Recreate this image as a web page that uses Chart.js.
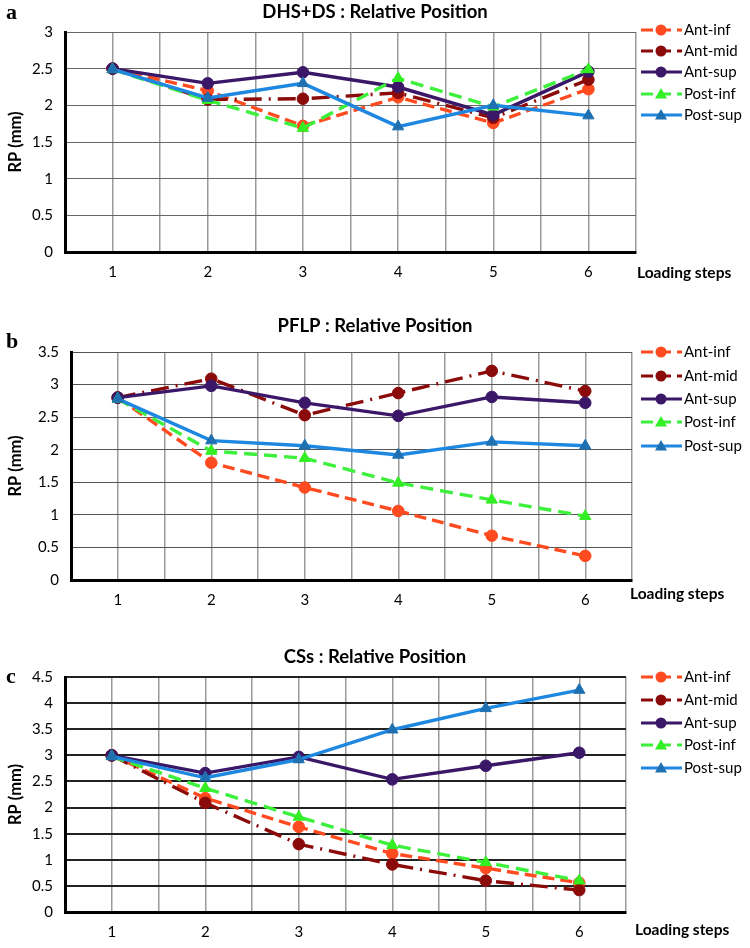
<!DOCTYPE html>
<html>
<head>
<meta charset="utf-8">
<script src="https://cdn.jsdelivr.net/npm/chart.js@4.4.1/dist/chart.umd.min.js"></script>
<style>
  body { margin: 0; background: #fff; }
  .panel { position: absolute; left: 0; }
</style>
</head>
<body>
<div class="panel" style="top:0"><canvas id="chartA" width="750" height="300"></canvas></div>
<div class="panel" style="top:300px"><canvas id="chartB" width="750" height="315"></canvas></div>
<div class="panel" style="top:615px"><canvas id="chartC" width="750" height="333"></canvas></div>
<script>
// Data
const steps = [1, 2, 3, 4, 5, 6];
const seriesNames = ['Ant-inf', 'Ant-mid', 'Ant-sup', 'Post-inf', 'Post-sup'];

// (a) DHS+DS
const antInfA = [2.5, 2.2, 1.72, 2.11, 1.76, 2.22];
const antMidA = [2.5, 2.08, 2.09, 2.17, 1.83, 2.35];
const antSupA = [2.5, 2.3, 2.45, 2.25, 1.87, 2.46];
const postInfA = [2.49, 2.07, 1.69, 2.37, 1.98, 2.49];
const postSupA = [2.49, 2.1, 2.3, 1.71, 2.0, 1.86];

// (b) PFLP
const antInfB = [2.8, 1.8, 1.42, 1.06, 0.68, 0.37];
const antMidB = [2.8, 3.09, 2.53, 2.87, 3.21, 2.9];
const antSupB = [2.8, 2.98, 2.72, 2.52, 2.81, 2.72];
const postInfB = [2.78, 1.98, 1.87, 1.49, 1.23, 0.98];
const postSupB = [2.78, 2.14, 2.06, 1.92, 2.12, 2.06];

// (c) CSs
const antInfC = [3.0, 2.18, 1.63, 1.12, 0.84, 0.56];
const antMidC = [3.0, 2.09, 1.3, 0.91, 0.6, 0.42];
const antSupC = [3.0, 2.66, 2.97, 2.54, 2.8, 3.05];
const postInfC = [2.98, 2.37, 1.82, 1.28, 0.95, 0.6];
const postSupC = [2.98, 2.57, 2.92, 3.49, 3.9, 4.25];

const FONT = 'Lato, "Liberation Sans", sans-serif';

// series styles
const styles = [
    { color: '#ff4b1f', point: '#ff4b1f', dash: [12, 6], shape: 'circle' },
    { color: '#8b0a0a', point: '#8b0a0a', dash: [18, 7, 2, 7], shape: 'circle' },
    { color: '#3b1768', point: '#3b1768', dash: [], shape: 'circle' },
    { color: '#3cf03c', point: '#33ee22', dash: [13, 7], shape: 'triangle' },
    { color: '#1e88e0', point: '#1f70b0', dash: [], shape: 'triangle' }
];

function makeDatasets(seriesList) {
    return seriesList.map((vals, i) => ({
        label: seriesNames[i],
        data: vals.map((v, j) => ({ x: steps[j], y: v })),
        borderColor: styles[i].color,
        backgroundColor: styles[i].point,
        pointBackgroundColor: styles[i].point,
        pointBorderColor: styles[i].point,
        borderDash: styles[i].dash,
        borderWidth: 3.4,
        pointStyle: styles[i].shape,
        pointRadius: styles[i].shape === 'triangle' ? 6.5 : 5.8,
        pointBorderWidth: 1,
        tension: 0,
        order: 4 - i
    }));
}

// Panel text + legend drawn on the canvas
const panelText = {
    id: 'panelText',
    afterDraw(chart, args, opts) {
        const ctx = chart.ctx;
        ctx.save();
        ctx.fillStyle = '#000';
        ctx.textBaseline = 'middle';

        ctx.font = 'bold 22px "Liberation Serif", serif';
        ctx.textAlign = 'left';
        ctx.fillText(opts.letter, 6, opts.letterY);

        ctx.font = 'bold 18.5px ' + FONT;
        ctx.textAlign = 'center';
        ctx.fillText(opts.title, 375, opts.titleY);

        ctx.font = 'bold 15.5px ' + FONT;
        ctx.textAlign = 'left';
        ctx.fillText('Loading steps', opts.stepsX, opts.stepsY);

        // legend
        chart.data.datasets.forEach((ds, i) => {
            const y = opts.legendY[i];
            ctx.strokeStyle = ds.borderColor;
            ctx.lineWidth = 3;
            ctx.setLineDash(ds.borderDash.length ? [12, 6] : []);
            ctx.beginPath();
            ctx.moveTo(641, y);
            ctx.lineTo(682, y);
            ctx.stroke();
            ctx.setLineDash([]);
            ctx.fillStyle = ds.pointBackgroundColor;
            ctx.beginPath();
            if (ds.pointStyle === 'circle') {
                ctx.arc(661, y, 5.5, 0, Math.PI * 2);
            } else {
                ctx.moveTo(661, y - 6);
                ctx.lineTo(667, y + 4.5);
                ctx.lineTo(655, y + 4.5);
                ctx.closePath();
            }
            ctx.fill();
            ctx.fillStyle = '#000';
            ctx.font = '15px ' + FONT;
            ctx.fillText(ds.label, 684, y);
        });
        ctx.restore();
    }
};

function buildChart(id, seriesList, box, yMax, hGrid, text) {
    const canvas = document.getElementById(id);
    return new Chart(canvas, {
        type: 'line',
        data: { datasets: makeDatasets(seriesList) },
        options: {
            responsive: false,
            animation: false,
            layout: { padding: { left: 0, right: canvas.width - box.right, top: box.top, bottom: 0 } },
            plugins: {
                legend: { display: false },
                tooltip: { enabled: false },
                panelText: text
            },
            scales: {
                x: {
                    type: 'linear',
                    min: 0.5,
                    max: 6.5,
                    afterFit(scale) { scale.height = canvas.height - box.bottom; },
                    ticks: {
                        stepSize: 0.5,
                        autoSkip: false,
                        maxRotation: 0,
                        padding: 11,
                        color: '#000',
                        font: { family: FONT, size: 15 },
                        callback: v => (v % 1 === 0 ? String(v) : '')
                    },
                    grid: { color: '#9a9a9a', lineWidth: 1.5, drawTicks: false },
                    border: { display: true, color: '#000', width: 3 }
                },
                y: {
                    min: 0,
                    max: yMax,
                    afterFit(scale) { scale.width = box.left; },
                    ticks: {
                        stepSize: 0.5,
                        padding: 12,
                        color: '#000',
                        font: { family: FONT, size: 15 },
                        callback: v => String(v)
                    },
                    grid: { color: hGrid.color, lineWidth: hGrid.width, drawTicks: false },
                    border: { display: true, color: '#000', width: 3 },
                    title: {
                        display: true,
                        text: 'RP (mm)',
                        color: '#000',
                        font: { family: FONT, size: 16.5, weight: 'bold' },
                        padding: { top: 6, bottom: 0 }
                    }
                }
            }
        },
        plugins: [panelText]
    });
}

buildChart('chartA', [antInfA, antMidA, antSupA, postInfA, postSupA],
    { left: 65, right: 636, top: 32, bottom: 252 }, 3,
    { color: '#666', width: 1 },
    { letter: 'a', letterY: 13, title: 'DHS+DS : Relative Position', titleY: 12,
      stepsX: 637, stepsY: 273, legendY: [30, 51, 72, 94, 115] });

buildChart('chartB', [antInfB, antMidB, antSupB, postInfB, postSupB],
    { left: 71, right: 632, top: 52, bottom: 280 }, 3.5,
    { color: '#555', width: 1 },
    { letter: 'b', letterY: 42, title: 'PFLP : Relative Position', titleY: 26,
      stepsX: 630, stepsY: 294, legendY: [52, 76, 99, 122, 146] });

buildChart('chartC', [antInfC, antMidC, antSupC, postInfC, postSupC],
    { left: 65, right: 626, top: 62, bottom: 297 }, 4.5,
    { color: '#222', width: 2 },
    { letter: 'c', letterY: 62, title: 'CSs : Relative Position', titleY: 42,
      stepsX: 635, stepsY: 315, legendY: [62, 85, 108, 130, 153] });
</script>
</body>
</html>
